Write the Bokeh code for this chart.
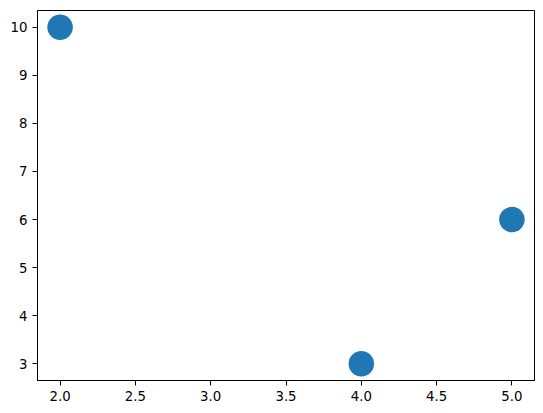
from bokeh.plotting import figure
from bokeh.models import FixedTicker, NumeralTickFormatter, Range1d
from bokeh.embed import file_html
from bokeh.resources import INLINE

xs = [2, 4, 5]
ys = [10, 3, 6]
x_ticks = [2.0, 2.5, 3.0, 3.5, 4.0, 4.5, 5.0]
y_ticks = [3, 4, 5, 6, 7, 8, 9, 10]

p = figure(width=535, height=405, output_backend="svg", toolbar_location=None,
           x_range=Range1d(1.85, 5.15), y_range=Range1d(2.65, 10.35),
           min_border_left=37, min_border_right=1, min_border_top=10, min_border_bottom=25)
p.background_fill_color = "white"
p.border_fill_color = "white"
p.outline_line_color = "black"
p.outline_line_width = 1
p.grid.visible = False

p.scatter(xs, ys, size=25.5, color="#1f77b4", line_color=None)

for ax in (p.xaxis[0], p.yaxis[0]):
    ax.axis_line_color = "black"
    ax.major_tick_line_color = "black"
    ax.major_tick_out = 5
    ax.major_tick_in = 0
    ax.minor_tick_line_color = None
    ax.major_label_text_font = "DejaVu Sans"
    ax.major_label_text_font_size = "13.3px"
    ax.major_label_text_color = "black"
    ax.major_label_standoff = 5

p.xaxis[0].ticker = FixedTicker(ticks=x_ticks)
p.xaxis[0].formatter = NumeralTickFormatter(format="0.0")
p.yaxis[0].ticker = FixedTicker(ticks=y_ticks)

open("out.html", "w").write(file_html(p, INLINE))
